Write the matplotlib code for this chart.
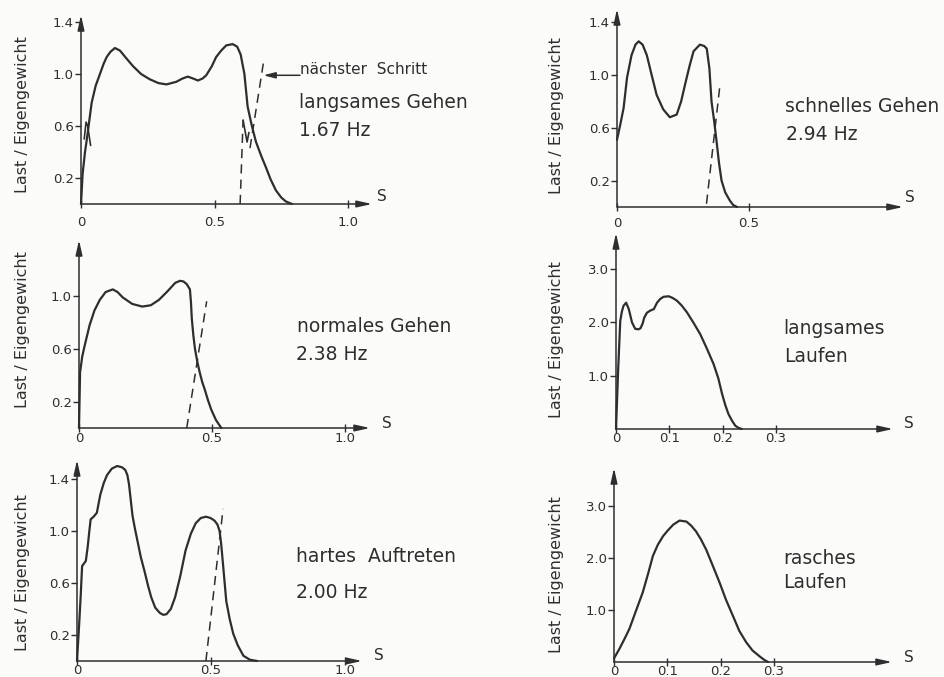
import matplotlib
matplotlib.use('Agg')
import matplotlib.pyplot as plt

W, H = 945, 677
INK = '#2e2e2e'
PAPER = '#fbfbfa'

plt.rcParams['font.family'] = ['DejaVu Sans']

# langsames Gehen, 1.67 Hz
lg_t = [0, 0.006, 0.015, 0.024, 0.04, 0.055, 0.071, 0.085, 0.096, 0.11, 0.127, 0.146,
        0.17, 0.195, 0.225, 0.257, 0.29, 0.32, 0.357, 0.38, 0.40, 0.42, 0.438, 0.455,
        0.469, 0.49, 0.506, 0.525, 0.544, 0.568, 0.585, 0.598, 0.612, 0.624, 0.64,
        0.655, 0.675, 0.693, 0.71, 0.73, 0.75, 0.767, 0.79]
lg_f = [0, 0.23, 0.40, 0.53, 0.78, 0.91, 1.0, 1.08, 1.13, 1.17, 1.2, 1.18,
        1.12, 1.06, 1.0, 0.96, 0.93, 0.92, 0.94, 0.965, 0.98, 0.965, 0.95, 0.965,
        0.99, 1.06, 1.13, 1.18, 1.22, 1.23, 1.21, 1.15, 1.0, 0.75, 0.6,
        0.48, 0.37, 0.28, 0.19, 0.105, 0.05, 0.02, 0]
# Ende des vorigen Schritts und Beginn des nächsten
lg_prev_t = [0.012, 0.019, 0.025, 0.036]
lg_prev_f = [0.50, 0.63, 0.60, 0.45]
lg_next1_t = [0.596, 0.607]
lg_next1_f = [0.0, 0.646]
lg_kink_t = [0.607, 0.622, 0.629]
lg_kink_f = [0.646, 0.477, 0.55]
lg_next2_t = [0.633, 0.685]
lg_next2_f = [0.43, 1.11]

# schnelles Gehen, 2.94 Hz
sg_t = [0, 0.012, 0.025, 0.038, 0.055, 0.07, 0.082, 0.097, 0.113, 0.13, 0.15, 0.175,
        0.2, 0.226, 0.243, 0.258, 0.275, 0.29, 0.314, 0.33, 0.34, 0.35, 0.358, 0.368,
        0.377, 0.386, 0.396, 0.41, 0.427, 0.44, 0.455]
sg_f = [0.51, 0.62, 0.75, 0.98, 1.15, 1.23, 1.255, 1.23, 1.15, 1.01, 0.85, 0.74,
        0.68, 0.70, 0.80, 0.93, 1.07, 1.18, 1.23, 1.22, 1.2, 1.05, 0.8, 0.65,
        0.5, 0.34, 0.2, 0.11, 0.05, 0.015, 0]
sg_next_t = [0.339, 0.39]
sg_next_f = [0.025, 0.925]

# normales Gehen, 2.38 Hz
ng_t = [0, 0.004, 0.012, 0.022, 0.04, 0.058, 0.078, 0.1, 0.127, 0.145, 0.164, 0.2,
        0.238, 0.27, 0.3, 0.33, 0.362, 0.38, 0.393, 0.405, 0.417, 0.421, 0.424, 0.43,
        0.436, 0.445, 0.454, 0.463, 0.473, 0.485, 0.497, 0.515, 0.535]
ng_f = [0, 0.42, 0.54, 0.63, 0.78, 0.89, 0.97, 1.03, 1.05, 1.03, 0.99, 0.94,
        0.92, 0.93, 0.97, 1.03, 1.1, 1.115, 1.11, 1.09, 1.05, 0.95, 0.83, 0.7,
        0.6, 0.5, 0.42, 0.35, 0.29, 0.21, 0.14, 0.06, 0]
ng_next_t = [0.405, 0.48]
ng_next_f = [0.0, 0.96]

# langsames Laufen
ll_t = [0, 0.004, 0.008, 0.011, 0.014, 0.019, 0.024, 0.03, 0.036, 0.042, 0.046, 0.05,
        0.053, 0.058, 0.064, 0.071, 0.077, 0.083, 0.089, 0.099, 0.106, 0.114, 0.123,
        0.133, 0.145, 0.158, 0.17, 0.183, 0.192, 0.199, 0.205, 0.211, 0.218, 0.224,
        0.23, 0.236]
ll_f = [0, 1.1, 2.03, 2.2, 2.31, 2.37, 2.25, 2.0, 1.88, 1.87, 1.89, 1.98,
        2.09, 2.18, 2.22, 2.25, 2.37, 2.44, 2.48, 2.49, 2.46, 2.41, 2.32,
        2.19, 2.0, 1.78, 1.52, 1.22, 0.95, 0.66, 0.45, 0.28, 0.15, 0.06,
        0.02, 0]

# hartes Auftreten, 2.00 Hz
ha_t = [0, 0.008, 0.014, 0.019, 0.026, 0.033, 0.04, 0.046, 0.051, 0.062, 0.074, 0.087,
        0.1, 0.112, 0.13, 0.15, 0.168, 0.18, 0.188, 0.194, 0.2, 0.207, 0.216, 0.226,
        0.238, 0.252, 0.265, 0.277, 0.292, 0.309, 0.322, 0.334, 0.35, 0.366, 0.385,
        0.405, 0.425, 0.443, 0.462, 0.481, 0.498, 0.513, 0.524, 0.532, 0.538, 0.545,
        0.551, 0.557, 0.57, 0.583, 0.6, 0.621, 0.645, 0.672]
ha_f = [0, 0.28, 0.51, 0.73, 0.75, 0.77, 0.88, 1.0, 1.09, 1.11, 1.14, 1.28,
        1.37, 1.43, 1.48, 1.5, 1.49, 1.47, 1.43, 1.36, 1.25, 1.12, 1.02, 0.92,
        0.8, 0.69, 0.58, 0.49, 0.41, 0.37, 0.355, 0.36, 0.4, 0.49, 0.65,
        0.85, 0.98, 1.06, 1.1, 1.11, 1.1, 1.08, 1.05, 1.0, 0.9, 0.74,
        0.6, 0.46, 0.32, 0.21, 0.12, 0.04, 0.01, 0]
ha_next_t = [0.481, 0.545]
ha_next_f = [0.0, 1.17]

# rasches Laufen
rl_t = [0, 0.01, 0.02, 0.029, 0.04, 0.054, 0.064, 0.073, 0.082, 0.092, 0.101, 0.111,
        0.123, 0.136, 0.145, 0.154, 0.163, 0.173, 0.185, 0.198, 0.21, 0.223, 0.235,
        0.248, 0.26, 0.273, 0.282, 0.289]
rl_f = [0.07, 0.25, 0.45, 0.64, 0.95, 1.34, 1.7, 2.04, 2.25, 2.42, 2.53, 2.64,
        2.72, 2.70, 2.62, 2.51, 2.36, 2.16, 1.86, 1.53, 1.2, 0.89, 0.6,
        0.38, 0.22, 0.11, 0.04, 0]

fig = plt.figure(figsize=(W / 100, H / 100), dpi=100, facecolor=PAPER)


def px(x, y):
    return x / W, 1 - y / H


def panel(ox, oy, sx, sy, xtip, ytip, xticks, xlabels, yticks, ylabels, xpad):
    # ox/oy: Ursprung in Pixeln, sx/sy: Pixel pro Einheit, xtip/ytip: Pfeilspitzen
    ax = fig.add_axes([ox / W, 1 - oy / H, (xtip - ox) / W, (oy - ytip) / H])
    ax.set_xlim(0, (xtip - ox) / sx)
    ax.set_ylim(0, (oy - ytip) / sy)
    ax.patch.set_alpha(0)
    for s in ax.spines.values():
        s.set_visible(False)
    arrow = dict(arrowstyle='-|>,head_length=0.9,head_width=0.2', color=INK,
                 lw=1.1, shrinkA=0, shrinkB=0)
    ax.annotate('', xy=(1, 0), xytext=(0, 0), xycoords='axes fraction', arrowprops=arrow)
    ax.annotate('', xy=(0, 1), xytext=(0, 0), xycoords='axes fraction', arrowprops=arrow)
    ax.set_xticks(xticks, xlabels)
    ax.set_yticks(yticks, ylabels)
    ax.tick_params(axis='x', direction='inout', length=6, width=1, color=INK,
                   labelsize=9.5, labelcolor=INK, pad=xpad)
    ax.tick_params(axis='y', direction='out', length=4, width=1, color=INK,
                   labelsize=9.5, labelcolor=INK, pad=1)
    return ax


def curve(ax, t, f, **kw):
    style = dict(color=INK, lw=1.6, solid_joinstyle='round', solid_capstyle='round',
                 clip_on=False)
    style.update(kw)
    ax.plot(t, f, **style)


def dashed(ax, t, f):
    ax.plot(t, f, color=INK, lw=1.1, ls=(0, (6, 4)), clip_on=False)


def label(x, y, text, size=13.5, **kw):
    fig.text(*px(x, y), text, fontsize=size, color=INK, ha='left', va='center', **kw)


def ylab(x, y):
    fig.text(*px(x, y), 'Last / Eigengewicht', fontsize=11.5, color=INK, rotation=90,
             ha='center', va='center')


y_walk = [0.2, 0.6, 1.0, 1.4]
y_walk_lab = ['0.2', '0.6', '1.0', '1.4']
y_run = [1.0, 2.0, 3.0]
y_run_lab = ['1.0', '2.0', '3.0']

# oben links
ax1 = panel(81, 204, 267, 130, 372, 15, [0, 0.5, 1.0], ['0', '0.5', '1.0'],
            y_walk, y_walk_lab, 5.5)
curve(ax1, lg_t, lg_f)
curve(ax1, lg_prev_t, lg_prev_f, lw=1.2)
dashed(ax1, lg_next1_t, lg_next1_f)
curve(ax1, lg_kink_t, lg_kink_f, lw=1.2)
dashed(ax1, lg_next2_t, lg_next2_f)
ax1.annotate('', xy=(0.683, 0.99), xytext=(0.82, 0.99),
             arrowprops=dict(arrowstyle='-|>,head_length=0.7,head_width=0.18',
                             color=INK, lw=1.1, shrinkA=0, shrinkB=0))
label(300, 69, 'nächster  Schritt', size=11)
label(299, 102, 'langsames Gehen')
label(299, 130, '1.67 Hz')
label(377, 196, 'S', size=11)
ylab(23, 115)

# oben rechts
ax2 = panel(617, 207, 264, 132, 903, 9, [0, 0.5], ['0', '0.5'], y_walk, y_walk_lab, 4)
curve(ax2, sg_t, sg_f)
dashed(ax2, sg_next_t, sg_next_f)
label(785, 106, 'schnelles Gehen')
label(786, 135, '2.94 Hz')
label(905, 198, 'S', size=11)
ylab(557, 116)

# Mitte links
ax3 = panel(79, 428, 266, 132, 370, 240, [0, 0.5, 1.0], ['0', '0.5', '1.0'],
            y_walk[:3], y_walk_lab[:3], 0)
curve(ax3, ng_t, ng_f)
dashed(ax3, ng_next_t, ng_next_f)
label(297, 327, 'normales Gehen')
label(296, 354, '2.38 Hz')
label(382, 423, 'S', size=11)
ylab(23, 330)

# Mitte rechts
ax4 = panel(616, 429, 533, 53.3, 893, 233, [0, 0.1, 0.2, 0.3],
            ['0', '0.1', '0.2', '0.3'], y_run, y_run_lab, -0.5)
curve(ax4, ll_t, ll_f)
label(783, 328, 'langsames')
label(784, 357, 'Laufen')
label(904, 423, 'S', size=11)
ylab(557, 340)

# unten links
ax5 = panel(77, 661, 268, 130, 362, 460, [0, 0.5, 1.0], ['0', '0.5', '1.0'],
            y_walk, y_walk_lab, -0.8)
curve(ax5, ha_t, ha_f)
dashed(ax5, ha_next_t, ha_next_f)
label(296, 557, 'hartes  Auftreten')
label(296, 593, '2.00 Hz')
label(374, 656, 'S', size=11)
ylab(23, 573)

# unten rechts
ax6 = panel(614, 662, 533, 52, 892, 468, [0, 0.1, 0.2, 0.3],
            ['0', '0.1', '0.2', '0.3'], y_run, y_run_lab, -0.8)
curve(ax6, rl_t, rl_f)
label(783, 558, 'rasches')
label(783, 583, 'Laufen')
label(904, 657, 'S', size=11)
ylab(557, 575)

fig.savefig('out.png', dpi=100, facecolor=PAPER)
